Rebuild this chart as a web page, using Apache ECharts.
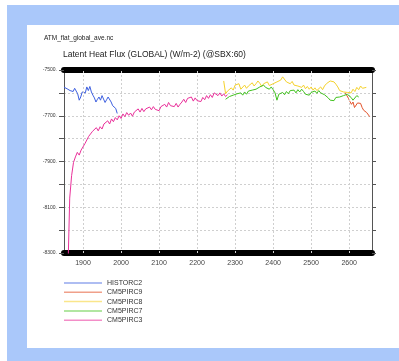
<!DOCTYPE html>
<html>
<head>
<meta charset="utf-8">
<script src="https://cdn.jsdelivr.net/npm/echarts@6/dist/echarts.min.js"></script>
<style>
  html, body { margin: 0; padding: 0; background: #ffffff; }
  #chart { width: 399px; height: 361px; }
</style>
</head>
<body>
<div id="chart"></div>
<script>
// Latent heat flux, global annual mean, per experiment
const fileName = 'ATM_flat_global_ave.nc';
const chartTitle = 'Latent Heat Flux (GLOBAL) (W/m-2) (@SBX:60)';
const xTickYears = [1900, 2000, 2100, 2200, 2300, 2400, 2500, 2600];

const seriesNames = ['HISTORC2', 'CM5PIRC9', 'CM5PIRC8', 'CM5PIRC7', 'CM5PIRC3'];
const seriesColors = ['#3d5fe0', '#e3522a', '#f5d22c', '#41c21f', '#e9319a'];

// HISTORC2: first year 1850, every 4 years
const histStart = 1850, histStep = 4;
const histValues = [
  -7575, -7568, -7582, -7576, -7590, -7584, -7594, -7580, -7592, -7604,
  -7632, -7618, -7596, -7588, -7600, -7574, -7590, -7572, -7596, -7610,
  -7622, -7640, -7628, -7618, -7632, -7612, -7620, -7642, -7630, -7618,
  -7626, -7640, -7656, -7650, -7668, -7690
];

// CM5PIRC9: first year 2590, every 4 years
const rc9Start = 2590, rc9Step = 4;
const rc9Values = [
  -7600, -7608, -7624, -7638, -7650, -7640, -7664, -7656, -7644, -7652,
  -7646, -7664, -7676, -7670, -7686, -7694, -7704
];

// CM5PIRC8: first year 2270, every 5 years
const rc8Start = 2270, rc8Step = 5;
const rc8Values = [
  -7548, -7604, -7592, -7600, -7578, -7588, -7566, -7574, -7560, -7584,
  -7576, -7566, -7580, -7570, -7576, -7556, -7570, -7560, -7548, -7558,
  -7572, -7560, -7566, -7552, -7568, -7576, -7560, -7566, -7552, -7560,
  -7544, -7530, -7534, -7552, -7546, -7560, -7550, -7566, -7558, -7570,
  -7562, -7576, -7566, -7582, -7572, -7584, -7574, -7588, -7578, -7590,
  -7584, -7574, -7586, -7570, -7560, -7566, -7548, -7540, -7552, -7562,
  -7574, -7590, -7584, -7596, -7588, -7598, -7590, -7600, -7584, -7594,
  -7576, -7586, -7570, -7580, -7572, -7576
];

// CM5PIRC7: first year 2275, every 5 years
const rc7Start = 2275, rc7Step = 5;
const rc7Values = [
  -7628, -7634, -7616, -7624, -7610, -7618, -7604, -7612, -7600, -7610,
  -7596, -7606, -7592, -7600, -7588, -7596, -7584, -7590, -7574, -7582,
  -7566, -7576, -7570, -7584, -7574, -7586, -7600, -7632, -7606, -7612,
  -7598, -7608, -7594, -7604, -7590, -7598, -7588, -7600, -7586, -7596,
  -7584, -7594, -7606, -7598, -7610, -7598, -7606, -7592, -7602, -7590,
  -7600, -7594, -7608, -7614, -7622, -7632, -7626, -7634, -7620, -7628,
  -7618, -7626, -7612, -7620, -7606, -7614, -7620, -7632, -7624, -7612,
  -7618
];

// CM5PIRC3: first year 1860, every 5 years
const rc3Start = 1860, rc3Step = 5;
const rc3Values = [
  -8400, -8060, -7962, -7904, -7880, -7860, -7872, -7850, -7856, -7822,
  -7806, -7790, -7798, -7768, -7776, -7752, -7766, -7748, -7758, -7736,
  -7744, -7722, -7736, -7714, -7726, -7708, -7718, -7700, -7712, -7692,
  -7704, -7686, -7698, -7688, -7702, -7684, -7692, -7670, -7684, -7668,
  -7682, -7670, -7678, -7662, -7674, -7660, -7672, -7666, -7678, -7660,
  -7668, -7650, -7662, -7642, -7656, -7648, -7660, -7646, -7662, -7650,
  -7640, -7628, -7642, -7624, -7632, -7618, -7636, -7622, -7634, -7626,
  -7638, -7620, -7630, -7612, -7624, -7608, -7620, -7600, -7596, -7612,
  -7600, -7614, -7604, -7616, -7608
];

const xMin = 1850, xMax = 2660;
const yMin = -8300, yMax = -7500, yStep = 100;

function pairs(start, step, values) {
  return values.map((v, i) => [start + i * step, v]);
}

const seriesData = [
  pairs(histStart, histStep, histValues),
  pairs(rc9Start, rc9Step, rc9Values),
  pairs(rc8Start, rc8Step, rc8Values),
  pairs(rc7Start, rc7Step, rc7Values),
  pairs(rc3Start, rc3Step, rc3Values)
];

const chart = echarts.init(document.getElementById('chart'), null, { renderer: 'canvas' });

const lineSeries = seriesNames.map((name, i) => ({
  name: name,
  type: 'line',
  data: seriesData[i],
  showSymbol: false,
  symbol: 'none',
  clip: true,
  z: 3 + i,
  lineStyle: { color: seriesColors[i], width: 1 },
  itemStyle: { color: seriesColors[i] }
}));

// dotted vertical guides at the labelled years
const gridSeries = {
  name: 'guides',
  type: 'line',
  data: [],
  silent: true,
  z: 1,
  markLine: {
    silent: true,
    symbol: ['none', 'none'],
    label: { show: false },
    lineStyle: { color: '#cfcfcf', type: [2, 2], width: 1 },
    data: xTickYears.map(y => ({ xAxis: y }))
  }
};

const font = '"Liberation Sans", Arial, sans-serif';

chart.setOption({
  animation: false,
  backgroundColor: '#ffffff',
  graphic: [
    { type: 'rect', shape: { x: 7, y: 5, width: 392, height: 356 }, style: { fill: '#aac8fa' }, z: -10 },
    { type: 'rect', shape: { x: 27, y: 25, width: 372, height: 323 }, style: { fill: '#ffffff' }, z: -9 },
    { type: 'text', left: 44, top: 35, style: { text: fileName, font: '6.5px ' + font, fill: '#222' } },
    { type: 'text', left: 63, top: 50, style: { text: chartTitle, font: '8.5px ' + font, fill: '#222' } }
  ],
  grid: { left: 64, right: 27, top: 70, bottom: 108, containLabel: false },
  legend: {
    orient: 'vertical',
    left: 64,
    top: 279,
    padding: 0,
    icon: 'rect',
    itemWidth: 38,
    itemHeight: 1.5,
    itemGap: 1.3,
    data: seriesNames.map((n, i) => ({ name: n, itemStyle: { color: seriesColors[i], opacity: 0.55 } })),
    textStyle: { fontSize: 7, lineHeight: 8, color: '#333', fontFamily: font, padding: [0, 0, 0, 0] }
  },
  xAxis: [
    {
      type: 'value', position: 'bottom', min: xMin, max: xMax,
      axisLine: { show: true, onZero: false, lineStyle: { color: '#000', width: 6 } },
      axisTick: { show: false },
      splitLine: { show: false },
      axisLabel: {
        customValues: xTickYears, color: '#444', fontSize: 7, fontFamily: font, margin: 7,
        formatter: v => String(v)
      }
    },
    {
      type: 'value', position: 'top', min: xMin, max: xMax,
      axisLine: { show: true, onZero: false, lineStyle: { color: '#000', width: 6 } },
      axisTick: { show: false },
      splitLine: { show: false },
      axisLabel: { show: false }
    }
  ],
  yAxis: [
    {
      type: 'value', position: 'left', min: yMin, max: yMax, interval: yStep,
      axisLine: { show: true, onZero: false, lineStyle: { color: '#555', width: 1 } },
      axisTick: { show: true, inside: false, length: 5, lineStyle: { color: '#555' } },
      splitLine: { show: true, lineStyle: { color: '#cfcfcf', type: [2, 2], width: 1 } },
      axisLabel: {
        color: '#333', fontSize: 5, fontFamily: font, margin: 7,
        formatter: v => ((v - yMin) % 200 === 0 ? v + '.' : '')
      }
    },
    {
      type: 'value', position: 'right', min: yMin, max: yMax, interval: yStep,
      axisLine: { show: true, onZero: false, lineStyle: { color: '#555', width: 1 } },
      axisTick: { show: true, inside: false, length: 4, lineStyle: { color: '#555' } },
      splitLine: { show: false },
      axisLabel: { show: false }
    }
  ],
  series: [gridSeries].concat(lineSeries)
});
</script>
</body>
</html>
